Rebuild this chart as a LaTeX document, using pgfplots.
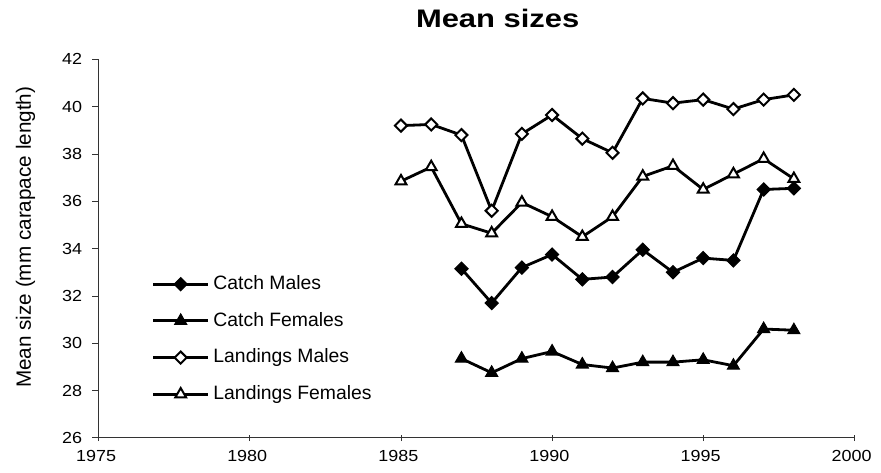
\documentclass[border=0pt]{standalone}
\usepackage{pgfplots}
\pgfplotsset{compat=1.18}
\usepackage{fontspec}
\setmainfont{Liberation Sans}
\newfontfamily\tickfont{Liberation Sans}[FakeStretch=1.12]
\newfontfamily\titlefont{Liberation Sans}[FakeStretch=1.22]

\begin{document}
\begin{tikzpicture}
% page size: 881x472 px at 0.75 pt/px
\useasboundingbox (-74pt,-26pt) rectangle (586pt,328pt);
\begin{axis}[
    at={(0pt,0pt)}, anchor=south west,
    scale only axis,
    width=566pt, height=283.5pt,
    xmin=1975, xmax=2000,
    ymin=26, ymax=42,
    xtick={1975,1980,...,2000},
    ytick={26,28,...,42},
    axis x line*=bottom,
    axis y line*=left,
    axis line style={line width=0.7pt, black!80},
    x tick style={black!80, line width=0.6pt},
    y tick style={black!80, line width=0.6pt},
    xtick align=center,
    ytick align=outside,
    major tick length=5pt,
    /pgf/number format/1000 sep={},
    /pgf/number format/assume math mode=true,
    tick label style={font=\tickfont\fontsize{12}{14}\selectfont},
    xticklabel style={xshift=-2pt, yshift=-3pt},
    yticklabel style={xshift=-4pt},
    ylabel={Mean size (mm carapace length)},
    ylabel style={font=\fontsize{15.5}{17}\selectfont,
        at={(axis description cs:-0.097,0.53)}, anchor=center},
    clip=false,
    legend cell align=left,
    legend style={draw=none, fill=none, inner sep=0pt,
        at={(rel axis cs:0.07,0.435)}, anchor=north west,
        font=\fontsize{14.5}{16}\selectfont,
        row sep=11.5pt, column sep=2pt,
        nodes={inner sep=1pt, text height=11pt, text depth=3pt}},
    legend image code/.code={
        \draw[mark repeat=2, mark phase=2] plot coordinates {(0pt,0pt) (20.5pt,0pt) (41pt,0pt)};
    },
]
% Catch Males
\addplot[black, line width=2.1pt, mark=square*, mark size=3.5pt,
  mark options={rotate=45, solid, fill=black, line width=0.8pt}]
  coordinates {
  (1987,33.15) (1988,31.7) (1989,33.2) (1990,33.75) (1991,32.7) (1992,32.8)
  (1993,33.95) (1994,33.0) (1995,33.6) (1996,33.5) (1997,36.5) (1998,36.55)
  };
\addlegendentry{Catch Males}
% Catch Females
\addplot[black, line width=2.1pt, mark=triangle*, mark size=5.2pt,
  mark options={solid, fill=black, line width=0.8pt}]
  coordinates {
  (1987,29.35) (1988,28.75) (1989,29.35) (1990,29.65) (1991,29.1) (1992,28.95)
  (1993,29.2) (1994,29.2) (1995,29.3) (1996,29.05) (1997,30.6) (1998,30.55)
  };
\addlegendentry{Catch Females}
% Landings Males
\addplot[black, line width=2.1pt, mark=square*, mark size=3.2pt,
  mark options={rotate=45, solid, fill=white, line width=1.5pt}]
  coordinates {
  (1985,39.2) (1986,39.25) (1987,38.8) (1988,35.6) (1989,38.85) (1990,39.65)
  (1991,38.65) (1992,38.05) (1993,40.35) (1994,40.15) (1995,40.3) (1996,39.9)
  (1997,40.3) (1998,40.5)
  };
\addlegendentry{Landings Males}
% Landings Females
\addplot[black, line width=2.1pt, mark=triangle*, mark size=4.7pt,
  mark options={solid, fill=white, line width=1.5pt}]
  coordinates {
  (1985,36.85) (1986,37.45) (1987,35.05) (1988,34.65) (1989,35.95) (1990,35.35)
  (1991,34.5) (1992,35.35) (1993,37.05) (1994,37.5) (1995,36.5) (1996,37.15)
  (1997,37.8) (1998,36.95)
  };
\addlegendentry{Landings Females}

\node[anchor=base, font=\titlefont\bfseries\fontsize{19}{22}\selectfont]
  at (rel axis cs:0.528,1) [yshift=24pt] {Mean sizes};
\end{axis}
\end{tikzpicture}
\end{document}
